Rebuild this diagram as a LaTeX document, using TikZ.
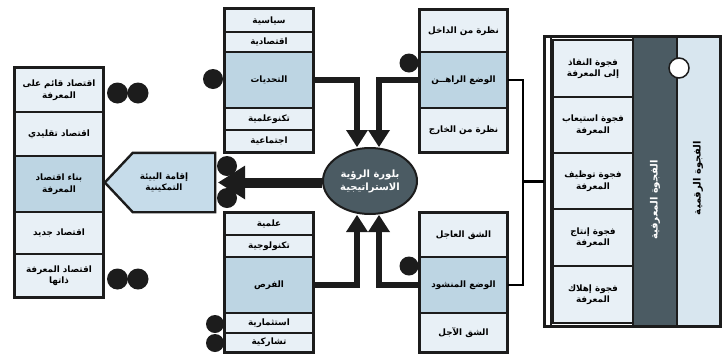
\documentclass[tikz,border=0pt]{standalone}
\usepackage{fontspec}
\newfontfamily\arabicfont[Script=Arabic]{DejaVu Sans}
\TeXXeTstate=1
\usetikzlibrary{arrows.meta,shapes.geometric}
\newcommand{\AR}[1]{\beginR #1\endR}
\definecolor{cellL}{HTML}{E8F0F6}
\definecolor{cellK}{HTML}{BDD5E3}
\definecolor{cellP}{HTML}{C6DCEA}
\definecolor{cellR}{HTML}{D8E6EF}
\definecolor{darkF}{HTML}{4B5B63}
\definecolor{ink}{HTML}{1C1C1C}
\tikzset{
  cell/.style={draw=ink, line width=1.2pt, fill=cellL, align=center, inner sep=0pt,
    font=\arabicfont\bfseries\fontsize{8.8}{11.5}\selectfont, text=black},
  keycell/.style={cell, fill=cellK, line width=2pt},
  grp/.style={draw=ink, line width=2.4pt},
  dot/.style={circle, fill=ink, inner sep=0pt, minimum size=20pt},
  conn/.style={draw=black, line width=2.6pt},
  bigarrow/.style={draw=ink, line width=6pt, -{Triangle[length=17pt,width=22pt,line width=0pt]}},
  bigarrowL/.style={draw=ink, line width=10pt, -{Triangle[length=27pt,width=34pt,line width=0pt]}}
}
\begin{document}
\begin{tikzpicture}[x=1pt,y=-1pt]
\useasboundingbox (0,0) rectangle (727,354);
\fill[white] (0,0) rectangle (727,354);

% ---- left column
\begin{scope}[every node/.append style={minimum width=88pt}]
\node[cell, minimum height=44pt] (l1) at (59,90) {\AR{اقتصاد قائم على}\\\AR{المعرفة}};
\node[cell, minimum height=44pt] (l2) at (59,134) {\AR{اقتصاد تقليدي}};
\node[keycell, minimum height=56pt] (l3) at (59,184) {\AR{بناء اقتصاد}\\\AR{المعرفة}};
\node[cell, minimum height=42pt] (l4) at (59,233) {\AR{اقتصاد جديد}};
\node[cell, minimum height=43pt] (l5) at (59,275.5) {\AR{اقتصاد المعرفة}\\\AR{ذاتها}};
\end{scope}
\draw[grp] (l1.north west) rectangle (l5.south east);

% ---- challenges
\begin{scope}[every node/.append style={minimum width=88pt}]
\node[cell, minimum height=23pt] (c1) at (269,20.5) {\AR{سياسية}};
\node[cell, minimum height=20pt] (c2) at (269,42) {\AR{اقتصادية}};
\node[keycell, minimum height=56pt] (c3) at (269,80) {\AR{التحديات}};
\node[cell, minimum height=22pt] (c4) at (269,119) {\AR{تكنوعلمية}};
\node[cell, minimum height=22pt] (c5) at (269,141) {\AR{اجتماعية}};
% ---- opportunities
\node[cell, minimum height=22pt] (o1) at (269,224) {\AR{علمية}};
\node[cell, minimum height=22pt] (o2) at (269,246) {\AR{تكنولوجية}};
\node[keycell, minimum height=56pt] (o3) at (269,285) {\AR{الفرص}};
\node[cell, minimum height=20pt] (o4) at (269,323) {\AR{استثمارية}};
\node[cell, minimum height=19pt] (o5) at (269,342.5) {\AR{تشاركية}};
\end{scope}
\draw[grp] (c1.north west) rectangle (c5.south east);
\draw[grp] (o1.north west) rectangle (o5.south east);

% ---- current / desired status
\begin{scope}[every node/.append style={minimum width=87pt}]
\node[cell, minimum height=42pt] (r1) at (463.5,31) {\AR{نظرة من الداخل}};
\node[keycell, minimum height=56pt] (r2) at (463.5,80) {\AR{الوضع الراهــن}};
\node[cell, minimum height=44pt] (r3) at (463.5,130) {\AR{نظرة من الخارج}};
\node[cell, minimum height=44pt] (d1) at (463.5,235) {\AR{الشق العاجل}};
\node[keycell, minimum height=56pt] (d2) at (463.5,285) {\AR{الوضع المنشود}};
\node[cell, minimum height=39pt] (d3) at (463.5,332.5) {\AR{الشق الآجل}};
\end{scope}
\draw[grp] (r1.north west) rectangle (r3.south east);
\draw[grp] (d1.north west) rectangle (d3.south east);

% ---- centre ellipse
\node[ellipse, draw=ink, line width=2pt, fill=darkF, minimum width=94pt, minimum height=66pt,
  inner sep=0pt, align=center, text=white, font=\arabicfont\bfseries\fontsize{10}{13}\selectfont]
  (ell) at (370,181) {\AR{بلورة الرؤية}\\\AR{الاستراتيجية}};

% ---- pentagon
\node[minimum width=110pt, minimum height=59pt, inner sep=0pt] (pent) at (160,182.5) {};
\filldraw[draw=ink, fill=cellP, line width=2.4pt, line join=miter]
  (pent.west) -- ([xshift=28pt]pent.north west) -- (pent.north east)
  -- (pent.south east) -- ([xshift=28pt]pent.south west) -- cycle;
\node[align=center, font=\arabicfont\bfseries\fontsize{8.8}{11.5}\selectfont] (pentT) at ([xshift=4pt]pent.center)
  {\AR{إقامة البيئة}\\\AR{التمكينية}};

% ---- right big box
\node[minimum width=176pt, minimum height=290pt, inner sep=0pt] (gbox) at (632.5,181.5) {};
\fill[darkF] (633,38) rectangle (677,325);
\fill[cellR] (677,38) rectangle (719,325);
\begin{scope}[every node/.append style={minimum width=80pt}]
\node[cell, minimum height=57pt] (g1) at (593,68.5) {\AR{فجوة النفاذ}\\\AR{إلى المعرفة}};
\node[cell, minimum height=56pt] (g2) at (593,125) {\AR{فجوة استيعاب}\\\AR{المعرفة}};
\node[cell, minimum height=56pt] (g3) at (593,181) {\AR{فجوة توظيف}\\\AR{المعرفة}};
\node[cell, minimum height=57pt] (g4) at (593,237.5) {\AR{فجوة إنتاج}\\\AR{المعرفة}};
\node[cell, minimum height=57pt] (g5) at (593,294.5) {\AR{فجوة إهلاك}\\\AR{المعرفة}};
\end{scope}
\draw[ink, line width=1.2pt] (633,38) -- (633,325) (677,38) -- (677,325);
\draw[ink, line width=3pt] (gbox.north west) rectangle (gbox.south east);
\draw[ink, line width=1.4pt] ([xshift=6.5pt]gbox.north west) -- ([xshift=6.5pt]gbox.south west);
\node[rotate=90, text=white, font=\arabicfont\bfseries\fontsize{10}{12}\selectfont] (kgap) at (655,200) {\AR{الفجوة المعرفية}};
\node[rotate=90, text=black, font=\arabicfont\bfseries\fontsize{10}{12}\selectfont] (dgap) at (698,178) {\AR{الفجوة الرقمية}};
\node[circle, draw=ink, fill=white, line width=1.5pt, minimum size=20pt, inner sep=0pt] (hole) at (679,68) {};

% ---- thin connectors on the right
\draw[conn] (r2.east) -- ++(15,0) coordinate (jt) |- (d2.east);
\draw[conn] (jt |- gbox.west) -- (gbox.west);

% ---- thick arrows into the ellipse
\draw[bigarrow] (c3.east) -| ([xshift=-13pt]ell.north);
\draw[bigarrow] (r2.west) -| ([xshift=9pt]ell.north);
\draw[bigarrow] (o3.east) -| ([xshift=-13pt]ell.south);
\draw[bigarrow] (d2.west) -| ([xshift=9pt]ell.south);

% ---- thick arrow to the pentagon
\draw[bigarrowL] (ell.west |- pent.east) -- ([xshift=3pt]pent.east);

% ---- dots
\node[dot, minimum size=21pt] (dl1a) at (117.5,93) {};
\node[dot, minimum size=21pt] (dl1b) at (138,93) {};
\node[dot, minimum size=21pt] (dl5a) at (117.5,279) {};
\node[dot, minimum size=21pt] (dl5b) at (138,279) {};
\node[dot] (dc3) at (213,79) {};
\node[dot] (dp1) at (227,166) {};
\node[dot] (dp2) at (227,198) {};
\node[dot, minimum size=18pt] (do4) at (215,324) {};
\node[dot, minimum size=18pt] (do5) at (215,343) {};
\node[dot, minimum size=19pt] (dr2) at (409,63) {};
\node[dot, minimum size=19pt] (dd2) at (409,266) {};
\end{tikzpicture}
\end{document}
